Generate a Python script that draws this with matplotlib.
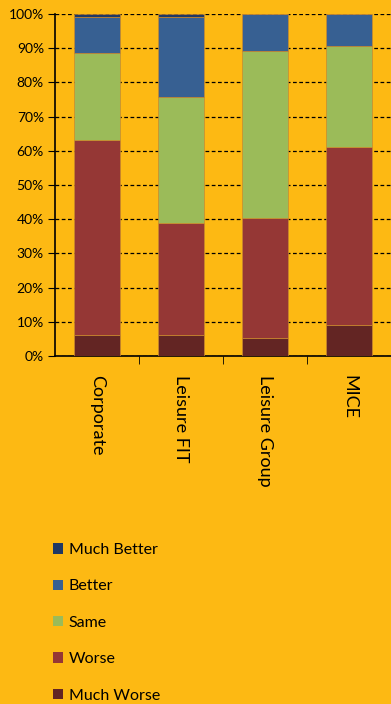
import matplotlib.pyplot as plt
import numpy as np
from matplotlib.patches import Patch

plt.rcParams['font.family'] = ['Lato', 'DejaVu Sans']

categories = ['Corporate', 'Leisure FIT', 'Leisure Group', 'MICE']
series = ['Much Worse', 'Worse', 'Same', 'Better', 'Much Better']
much_worse = [6.1, 6.1, 5.4, 9.0]
worse = [57.1, 32.7, 35.0, 52.2]
same = [25.5, 36.8, 48.9, 29.4]
better = [10.5, 23.6, 10.7, 9.4]
much_better = [0.8, 0.8, 0.0, 0.0]
colors = ['#632523', '#953735', '#9BBB59', '#376092', '#1F3864']

bg = '#FDB913'
fig = plt.figure(figsize=(3.91, 7.04), dpi=100, facecolor=bg)
ax = fig.add_axes([0.1407, 0.4943, 0.8593, 0.4858])
ax.set_facecolor(bg)

x = np.arange(len(categories))
bottom = np.zeros(len(categories))
for vals, name, c in zip([much_worse, worse, same, better, much_better], series, colors):
    ax.bar(x, vals, bottom=bottom, width=0.55, color=c, edgecolor='#C98A2E', linewidth=0.5, label=name, zorder=3)
    bottom += np.array(vals)

ax.set_xlim(-0.5, len(categories) - 0.5)
ax.set_ylim(0, 100)
ax.set_yticks(np.arange(0, 101, 10))
ax.set_yticklabels([f'{v}%' for v in range(0, 101, 10)], fontsize=10)
ax.yaxis.grid(True, linestyle=(0, (3, 2)), color='black', linewidth=0.9, zorder=1)

ax.set_xticks(x)
ax.set_xticklabels(categories, rotation=-90, fontsize=13, va='top', ha='center')
ax.set_xticks(np.arange(0.5, len(categories) - 0.5, 1), minor=True)
ax.tick_params(axis='x', which='major', length=0, pad=14)
ax.tick_params(axis='x', which='minor', length=6, direction='out', color='black')
ax.tick_params(axis='y', length=5, direction='out', pad=3)

for s in ['top', 'right']:
    ax.spines[s].set_visible(False)
ax.spines['left'].set_linewidth(1.2)
ax.spines['bottom'].set_linewidth(1.2)

handles = [Patch(facecolor=c, edgecolor='none') for c in colors[::-1]]
fig.legend(handles, series[::-1], loc='upper left', bbox_to_anchor=(0.1, 0.249),
           frameon=False, fontsize=11.5, handlelength=0.6, handleheight=0.6,
           handletextpad=0.35, labelspacing=1.4)

fig.savefig('out.png', dpi=100, facecolor=bg)
